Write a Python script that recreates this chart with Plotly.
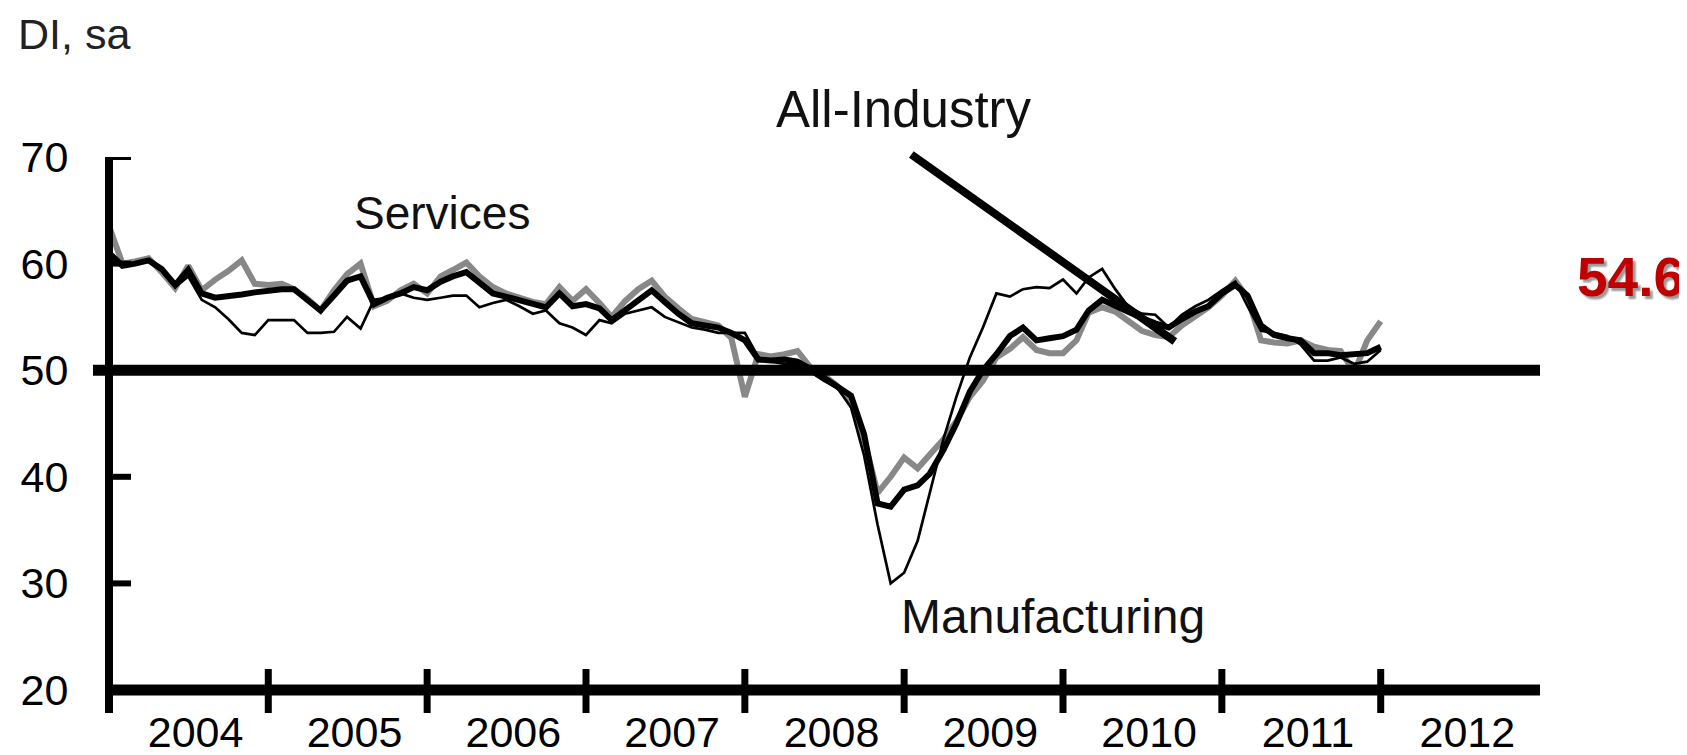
import pandas as pd
import plotly.graph_objects as go

# monthly readings, Jan 2004 .. Jan 2012
months = pd.date_range("2004-01-01", periods=97, freq="MS")

all_industry = [
    61.0, 59.8, 60.0, 60.3, 59.5, 58.0, 59.4, 57.2, 56.8, 56.9, 57.1, 57.3,
    57.5, 57.6, 57.6, 56.6, 55.6, 57.0, 58.4, 58.8, 56.2, 56.8, 57.2, 57.8,
    57.5, 58.3, 58.8, 59.2, 58.2, 57.2, 56.9, 56.6, 56.2, 55.9, 57.2, 56.0,
    56.2, 55.8, 54.7, 55.6, 56.6, 57.5, 56.4, 55.3, 54.4, 54.2, 54.0, 53.5,
    52.8, 51.0, 50.9, 51.0, 50.8, 50.1, 49.3, 48.5, 47.6, 44.0, 37.5, 37.2,
    38.8, 39.2, 40.3, 42.5, 45.0, 48.0, 50.0, 51.5, 53.2, 54.0, 52.8, 53.0,
    53.2, 53.8, 55.6, 56.6, 56.0, 55.4, 54.9, 54.4, 54.0, 54.8, 55.5, 56.0,
    57.2, 58.0, 57.0, 54.2, 53.3, 53.0, 52.8, 51.6, 51.6, 51.4, 51.5, 51.6,
    52.2,
]

services = [
    63.5, 60.0, 60.2, 60.5, 59.2, 57.7, 59.8, 57.5, 58.5, 59.3, 60.3, 58.1,
    58.0, 58.1, 57.6, 56.7, 55.6, 57.5, 59.0, 60.0, 56.0, 56.5, 57.5, 58.1,
    57.2, 58.8, 59.4, 60.1, 58.8, 57.8, 57.2, 56.8, 56.4, 56.2, 57.8, 56.5,
    57.6, 56.3, 55.0, 56.5, 57.6, 58.4, 56.9, 55.8, 54.8, 54.5, 54.2, 53.0,
    47.5, 51.5, 51.3, 51.5, 51.8, 50.2, 49.5, 48.5, 47.0, 43.5, 38.5, 40.0,
    41.8, 40.8, 42.0, 43.5, 45.2, 47.5, 49.0, 51.2, 52.0, 53.1, 51.9, 51.6,
    51.6, 52.8, 55.4, 55.9, 55.5, 54.6, 53.7, 53.3, 53.1, 54.2, 55.0, 55.9,
    57.0, 58.4, 56.8, 52.8, 52.6, 52.5, 52.8, 52.2, 51.9, 51.8, 49.8, 52.8,
    54.6,
]

manufacturing = [
    60.5, 59.8, 60.0, 60.2, 59.3, 57.8, 58.8, 56.6, 55.9, 54.8, 53.5, 53.3,
    54.7, 54.7, 54.7, 53.5, 53.5, 53.6, 55.0, 53.9, 56.6, 56.8, 57.2, 56.8,
    56.6, 56.8, 57.0, 57.0, 55.9, 56.3, 56.6, 56.0, 55.3, 55.6, 54.4, 54.0,
    53.3, 54.7, 54.4, 55.3, 55.6, 55.9, 55.0, 54.5, 54.0, 53.8, 53.5, 53.5,
    53.5, 51.2, 50.8, 50.6, 50.6, 49.8, 49.0, 48.3, 46.5, 42.0, 35.5, 30.0,
    31.0, 34.0, 38.5, 43.5, 47.5, 51.2, 54.0, 57.2, 56.9, 57.6, 57.8, 57.7,
    58.5, 57.2, 58.7, 59.5, 57.6, 55.9, 55.3, 55.2, 54.0, 55.2, 56.0, 56.6,
    57.5, 58.3, 56.0, 53.7, 53.5, 53.2, 52.4, 50.9, 50.9, 51.2, 50.6, 50.8,
    51.9,
]

years = list(range(2004, 2013))
y_ticks = [20, 30, 40, 50, 60, 70]
latest = "54.6"

# page layout in screen pixels; the html body adds an 8px margin
OFF = 8
PAGE_W, PAGE_H = 1687, 755
W, H = PAGE_W - OFF, PAGE_H - OFF
L, R, T, B = 109, 1540, 157, 690
FONT = "Liberation Sans, Arial, sans-serif"


def px(x):
    return (x - L) / (R - L)


def py(y):
    return (B - y) / (B - T)


fig = go.Figure()
fig.add_trace(go.Scatter(x=months, y=services, mode="lines", name="Services",
                         line=dict(color="#888888", width=6)))
fig.add_trace(go.Scatter(x=months, y=all_industry, mode="lines", name="All-Industry",
                         line=dict(color="#000000", width=6)))
fig.add_trace(go.Scatter(x=months, y=manufacturing, mode="lines", name="Manufacturing",
                         line=dict(color="#000000", width=2.7)))

shapes = []
# axis lines
shapes.append(dict(type="line", xref="paper", yref="paper", x0=0, x1=0,
                   y0=py(713), y1=1, line=dict(color="black", width=8)))
shapes.append(dict(type="line", xref="paper", yref="paper", x0=0, x1=1,
                   y0=0, y1=0, line=dict(color="black", width=11)))
# 50 reference line
shapes.append(dict(type="line", xref="paper", yref="y", x0=px(93), x1=1,
                   y0=50, y1=50, line=dict(color="black", width=11)))
# year boundary ticks crossing the x axis
for yr in years[1:]:
    shapes.append(dict(type="line", xref="x", yref="paper", x0=f"{yr}-01-01", x1=f"{yr}-01-01",
                       y0=py(713), y1=py(669), line=dict(color="black", width=7)))
# short inner ticks on the y axis
for v in [70, 60, 40, 30]:
    shapes.append(dict(type="line", xref="paper", yref="y", x0=0, x1=px(131),
                       y0=v, y1=v, line=dict(color="black", width=6)))

annotations = [
    dict(text="DI, sa", xref="paper", yref="paper", x=px(16), y=py(OFF),
         xanchor="left", yanchor="top", showarrow=False,
         font=dict(family=FONT, size=43, color="#222222")),
    dict(text="Services", xref="paper", yref="paper", x=px(352), y=py(213),
         xanchor="left", yanchor="middle", showarrow=False,
         font=dict(family=FONT, size=46, color="#111111")),
    dict(text="All-Industry", xref="paper", yref="paper", x=px(774), y=py(110),
         xanchor="left", yanchor="middle", showarrow=False,
         font=dict(family=FONT, size=51, color="#111111")),
    dict(text="Manufacturing", xref="paper", yref="paper", x=px(899), y=py(616),
         xanchor="left", yanchor="middle", showarrow=False,
         font=dict(family=FONT, size=48, color="#111111")),
    dict(text="", x="2010-09-15", y=52.7, xref="x", yref="y",
         showarrow=True, ax=-265, ay=-188, arrowhead=0, arrowwidth=8, arrowcolor="black"),
    dict(text=f"<b>{latest}</b>", xref="paper", yref="paper", x=px(1630), y=py(277),
         xanchor="center", yanchor="middle", showarrow=False,
         font=dict(family=FONT, size=55, color="#C00000", shadow="3px 3px 2px #9a9a9a")),
]

fig.update_layout(
    width=W, height=H,
    paper_bgcolor="white", plot_bgcolor="white",
    margin=dict(l=L - OFF, r=PAGE_W - R, t=T - OFF, b=PAGE_H - B, pad=0),
    showlegend=False,
    shapes=shapes,
    annotations=annotations,
)

fig.update_xaxes(
    range=["2004-01-01", "2013-01-01"], showgrid=False, zeroline=False, showline=False,
    automargin=False,
    tickvals=[f"{yr}-07-18" for yr in years], ticktext=[str(yr) for yr in years],
    ticks="outside", ticklen=4, tickcolor="rgba(0,0,0,0)",
    tickfont=dict(family=FONT, size=43, color="black"),
)
fig.update_yaxes(
    range=[20, 70], showgrid=False, zeroline=False, showline=False,
    automargin=False,
    tickvals=y_ticks, ticks="outside", ticklen=31, tickcolor="rgba(0,0,0,0)",
    tickfont=dict(family=FONT, size=43, color="black"),
)

fig.write_html("out.html")
